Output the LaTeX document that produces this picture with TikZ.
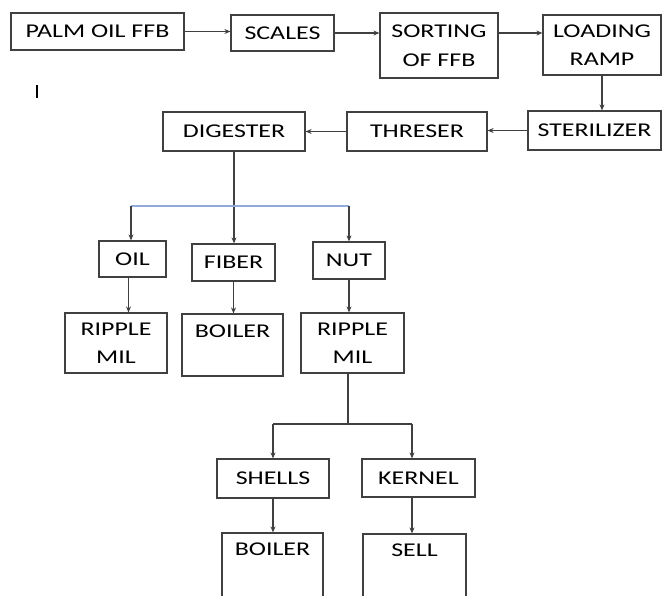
\documentclass[tikz,border=0pt]{standalone}
\usepackage{fontspec}
\setmainfont{Carlito}[FakeStretch=1.33]
\usetikzlibrary{arrows.meta}
\definecolor{boxline}{HTML}{404040}
\definecolor{splitblue}{HTML}{8FAADC}

\begin{document}
\begin{tikzpicture}[x=1pt,y=-1pt,
  box/.style={draw=boxline,line width=1.2pt,inner sep=0pt,align=center,font=\fontsize{19.5}{28.5}\selectfont},
  arr/.style={draw=boxline,line width=1.2pt,-{Stealth[length=6pt,width=5pt]}},
  link/.style={draw=boxline,line width=1.2pt}]
  \useasboundingbox (0,0) rectangle (662,595);

  % Recepción de la fruta
  \node[box,minimum width=173,minimum height=37] (palm) at (97.5,31.5) {PALM OIL FFB};
  \node[box,minimum width=103,minimum height=36] (scales) at (282.5,33) {SCALES};
  \node[box,minimum width=118,minimum height=65] (sorting) at (439,45.5) {SORTING\\OF FFB};
  \node[box,minimum width=118,minimum height=60] (loading) at (602,45) {LOADING\\RAMP};
  \node[box,minimum width=133,minimum height=39] (steril) at (594.5,130.5) {STERILIZER};
  \node[box,minimum width=140,minimum height=39] (thresher) at (417,131.5) {THRESER};
  \node[box,minimum width=142,minimum height=39] (digester) at (234,131.5) {DIGESTER};

  % Productos
  \node[box,minimum width=67,minimum height=36] (oil) at (132.5,259) {OIL};
  \node[box,minimum width=83,minimum height=37] (fiber) at (233.5,262.5) {FIBER};
  \node[box,minimum width=72,minimum height=37] (nut) at (349,260.5) {NUT};
  \node[box,minimum width=102,minimum height=60] (ripple1) at (116,343) {RIPPLE\\MIL};
  \node[box,minimum width=101,minimum height=62] (boiler1) at (232.5,345) {BOILER\\\phantom{M}};
  \node[box,minimum width=103,minimum height=60] (ripple2) at (352.5,343) {RIPPLE\\MIL};
  \node[box,minimum width=112,minimum height=39] (shells) at (273,478.5) {SHELLS};
  \node[box,minimum width=113,minimum height=38] (kernel) at (418.5,478) {KERNEL};
  \node[box,minimum width=101,minimum height=88.5] (boiler2) at (272.5,577.25) {BOILER\\\phantom{M}\\\phantom{M}};
  \node[box,minimum width=103,minimum height=88.5] (sell) at (414.5,578.25) {SELL\\\phantom{M}\\\phantom{M}};

  \coordinate (split1) at (232,206);
  \coordinate (ol) at (131,206);
  \coordinate (split2) at (348,424);
  \coordinate (kl) at (412,424);

  % Flechas
  \draw[arr] (palm) -- (palm.east -| scales.west);
  \draw[arr] (scales.east) -- (scales.east -| sorting.west);
  \draw[arr] (sorting.east |- scales) -- (loading.west |- scales);
  \draw[arr] (loading.south) -- (loading.south |- steril.north);
  \foreach \from/\to in {steril/thresher, thresher/digester}
    \draw[arr] (\from.west) -- (\from.west -| \to.east);
  \foreach \from/\to in {digester/fiber, fiber/boiler1, nut/ripple2, shells/boiler2}
    \draw[arr] (\from.south) -- (\from.south |- \to.north);
  \draw[arr] ([xshift=-4pt]oil.south) -- ([xshift=-4pt]oil.south |- ripple1.north);

  % Ramas
  \draw[splitblue,line width=1.2pt] (ol) -- (split1) -- (nut.north |- split1);
  \draw[arr] (ol) -- (ol |- oil.north);
  \draw[arr] (nut.north |- split1) -- (nut.north);
  \draw[link] (ripple2.south -| split2) -- (split2);
  \draw[link] (shells.north |- split2) -- (kl);
  \draw[arr] (shells.north |- split2) -- (shells.north);
  \draw[arr] (kl) -- (kl |- kernel.north);
  \draw[arr] (kl |- kernel.south) -- (kl |- sell.north);

  % Cursor
  \draw[line width=1.2pt] (37,85) -- (37,98);
\end{tikzpicture}
\end{document}
